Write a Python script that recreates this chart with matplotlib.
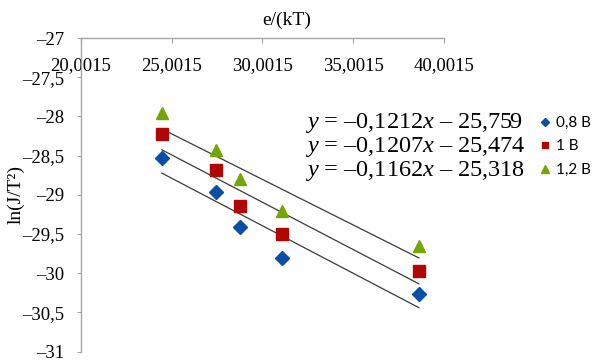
import numpy as np
import matplotlib
matplotlib.use("Agg")
import matplotlib.pyplot as plt
from matplotlib.ticker import FuncFormatter, MultipleLocator

plt.rcParams['mathtext.fontset'] = 'custom'
plt.rcParams['mathtext.rm'] = 'Liberation Serif'
plt.rcParams['mathtext.it'] = 'Liberation Serif:italic'

# data
x = [24.46, 27.44, 28.76, 31.07, 38.62]
y_08 = [-28.53, -28.97, -29.41, -29.81, -30.27]
y_1 = [-28.22, -28.68, -29.14, -29.50, -29.97]
y_12 = [-27.96, -28.43, -28.80, -29.21, -29.65]

labels = ['0,8 В', '1 В', '1,2 В']
slopes = [-0.1212, -0.1207, -0.1162]
intercepts = [-25.759, -25.474, -25.318]
equations = [r'$y$ = –0,1212$x$ – 25,759',
             r'$y$ = –0,1207$x$ – 25,474',
             r'$y$ = –0,1162$x$ – 25,318']

colors = ['#0B4EA6', '#B00606', '#72A600']
markers = ['D', 's', '^']
sizes = [7.5, 8, 9]
axis_col = '#A6A6A6'
serif = 'Liberation Serif'

fig = plt.figure(figsize=(5.92, 3.61), dpi=100)
ax = fig.add_axes([0.1368, 0.026, 0.6132, 0.8687])

handles = []
for ys, c, m, ms, lab in zip([y_08, y_1, y_12], colors, markers, sizes, labels):
    h, = ax.plot(x, ys, linestyle='none', marker=m, ms=ms, color=c, label=lab)
    handles.append(h)

# linear trendlines over the data range
xl = np.array([min(x), max(x)])
for k, b in zip(slopes, intercepts):
    ax.plot(xl, k * xl + b, color='#3A3A3A', lw=0.9, zorder=1)

ax.set_xlim(20.0015, 40.0015)
ax.set_ylim(-31, -27)
ax.xaxis.set_major_locator(MultipleLocator(5, offset=0.0015))
ax.yaxis.set_major_locator(MultipleLocator(0.5))


def xfmt(v, pos):
    return f"{v:.4f}".replace('.', ',')


def yfmt(v, pos):
    s = f"{abs(v):g}".replace('.', ',')
    return ('–' + s) if v < 0 else s


ax.xaxis.set_major_formatter(FuncFormatter(xfmt))
ax.yaxis.set_major_formatter(FuncFormatter(yfmt))

for side in ['right', 'bottom']:
    ax.spines[side].set_visible(False)
for side in ['left', 'top']:
    ax.spines[side].set_color(axis_col)
    ax.spines[side].set_linewidth(1.0)

ax.tick_params(axis='x', top=True, labeltop=True, bottom=False, labelbottom=False,
               direction='in', length=3.5, color=axis_col, pad=-26, labelsize=13.5)
ax.tick_params(axis='y', direction='out', length=3, color=axis_col, pad=9, labelsize=13.5)
for t in ax.get_xticklabels() + ax.get_yticklabels():
    t.set_fontfamily(serif)

fig.text(287 / 592, 1 - 20 / 361, 'e/(kT)', family=serif, fontsize=14,
         ha='center', va='center')
fig.text(16 / 592, 1 - 195 / 361, 'ln(J/T²)', family=serif, fontsize=14,
         ha='center', va='center', rotation=90)

row_y = [123, 147, 171]
for eq, ry in zip(equations, row_y):
    fig.text(305 / 592, 1 - ry / 361, eq, family=serif, fontsize=17.5,
             ha='left', va='center')

leg = fig.legend(handles=handles, labels=labels, loc='upper left',
                 bbox_to_anchor=(540 / 592, 1 - 116 / 361), frameon=False,
                 prop={'family': 'Lato', 'size': 11}, markerscale=0.6,
                 handlelength=0.7, handletextpad=0.35, labelspacing=0.62,
                 borderpad=0, borderaxespad=0)

fig.savefig('out.png', dpi=100)
